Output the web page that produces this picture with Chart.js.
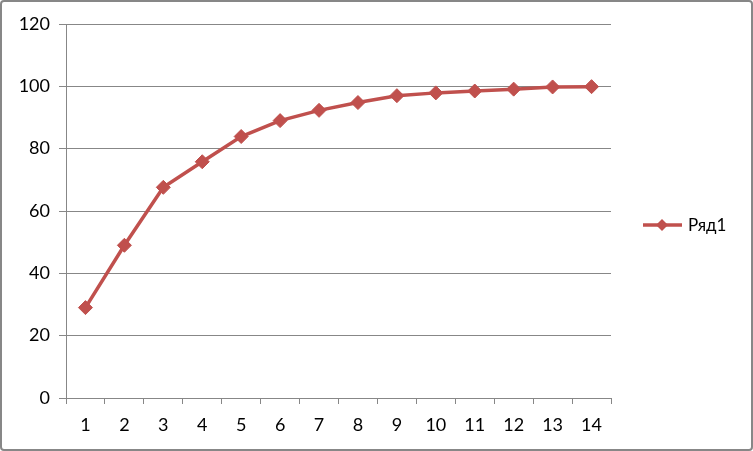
<!DOCTYPE html>
<html>
<head>
<meta charset="utf-8">
<script src="https://cdn.jsdelivr.net/npm/chart.js@4/dist/chart.umd.min.js"></script>
<style>
  html, body { margin: 0; padding: 0; background: #fff; }
  #wrap { width: 753px; height: 451px; position: relative; }
</style>
</head>
<body>
<div id="wrap"><canvas id="myChart" width="753" height="451"></canvas></div>
<script>
const categories = ['1', '2', '3', '4', '5', '6', '7', '8', '9', '10', '11', '12', '13', '14'];
const seriesName = 'Ряд1';
const seriesValues = [29, 49, 67.6, 75.8, 83.9, 89, 92.3, 94.8, 97, 97.9, 98.5, 99.1, 99.8, 99.9];
const yTicks = [0, 20, 40, 60, 80, 100, 120];

const red = '#C0504D';
const gray = '#878787';
const font = { family: 'Lato', size: 18 };

// frame + legend drawn by hand (Excel style: line with diamond)
const frameAndLegend = {
  id: 'frameAndLegend',
  beforeDraw(chart) {
    const ctx = chart.ctx;
    ctx.save();
    ctx.fillStyle = '#fff';
    ctx.fillRect(0, 0, chart.width, chart.height);
    ctx.restore();
  },
  afterDraw(chart) {
    const ctx = chart.ctx;
    ctx.save();
    ctx.strokeStyle = gray;
    ctx.lineWidth = 2;
    ctx.beginPath();
    ctx.roundRect(1, 1, chart.width - 2, chart.height - 2, 3);
    ctx.stroke();

    const ds = chart.data.datasets[0];
    const y = 225;
    ctx.strokeStyle = ds.borderColor;
    ctx.lineWidth = 3.5;
    ctx.beginPath();
    ctx.moveTo(643, y);
    ctx.lineTo(682, y);
    ctx.stroke();
    ctx.fillStyle = ds.borderColor;
    ctx.beginPath();
    ctx.moveTo(662, y - 6);
    ctx.lineTo(668, y);
    ctx.lineTo(662, y + 6);
    ctx.lineTo(656, y);
    ctx.closePath();
    ctx.fill();
    ctx.fillStyle = '#000';
    ctx.font = '17px Lato';
    ctx.textBaseline = 'middle';
    ctx.fillText(ds.label, 688, y + 1);
    ctx.restore();
  }
};

new Chart(document.getElementById('myChart'), {
  type: 'line',
  data: {
    labels: categories,
    datasets: [{
      label: seriesName,
      data: seriesValues,
      borderColor: red,
      backgroundColor: red,
      borderWidth: 3.5,
      pointStyle: 'rectRot',
      pointRadius: 7,
      pointBorderWidth: 1,
      pointBackgroundColor: red,
      pointBorderColor: red,
      tension: 0
    }]
  },
  options: {
    responsive: false,
    animation: false,
    layout: { padding: { left: 0, top: 24, right: 142, bottom: 0 } },
    plugins: {
      legend: { display: false },
      tooltip: { enabled: false }
    },
    scales: {
      x: {
        offset: true,
        grid: {
          offset: true,
          drawOnChartArea: false,
          drawTicks: true,
          tickLength: 6,
          color: gray
        },
        border: { color: gray, width: 1 },
        ticks: { color: '#000', font: font, padding: 10, maxRotation: 0 },
        afterFit(scale) { scale.height = 53; }
      },
      y: {
        min: 0,
        max: 120,
        afterBuildTicks(scale) { scale.ticks = yTicks.map(v => ({ value: v })); },
        grid: { color: gray, tickLength: 7, drawTicks: true },
        border: { color: gray, width: 1 },
        ticks: { color: '#000', font: font, padding: 9 },
        afterFit(scale) { scale.width = 66; }
      }
    }
  },
  plugins: [frameAndLegend]
});
</script>
</body>
</html>
